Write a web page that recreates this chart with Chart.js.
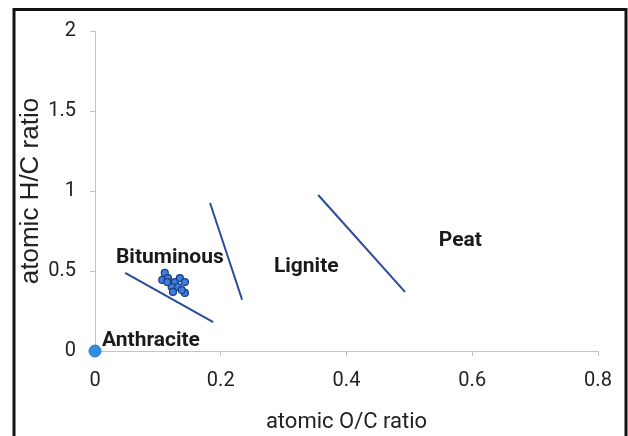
<!DOCTYPE html>
<html>
<head>
<meta charset="utf-8">
<script src="https://cdn.jsdelivr.net/npm/chart.js@4/dist/chart.umd.min.js"></script>
<style>
html,body{margin:0;padding:0;background:#fff;}
#wrap{position:absolute;left:0;top:0;width:628px;height:436px;}
</style>
</head>
<body>
<div id="wrap"><canvas id="c" width="628" height="436"></canvas></div>
<script>
// ---- data ----
const xTicks = [0, 0.2, 0.4, 0.6, 0.8];
const yTicks = [0, 0.5, 1, 1.5, 2];
const sampleX = [0.111, 0.107, 0.116, 0.127, 0.135, 0.143, 0.122, 0.132, 0.124, 0.143, 0.138, 0.115];
const sampleY = [0.488, 0.444, 0.456, 0.431, 0.456, 0.431, 0.400, 0.400, 0.369, 0.363, 0.381, 0.431];
const anthraciteX = [0];
const anthraciteY = [0];
const line1X = [0.048, 0.188], line1Y = [0.488, 0.180];
const line2X = [0.183, 0.234], line2Y = [0.925, 0.320];
const line3X = [0.355, 0.493], line3Y = [0.975, 0.370];
const labelText = ['Bituminous', 'Lignite', 'Peat', 'Anthracite'];
const labelX = [0.119, 0.336, 0.581, 0.089];
const labelY = [0.581, 0.525, 0.688, 0.063];

const pts = (xs, ys) => xs.map((x, i) => ({x: x, y: ys[i]}));
const NARROW = "'Roboto','Open Sans',sans-serif";
const WIDE = "'Liberation Sans','Arial',sans-serif";
const lineColor = '#2A4A9A';

const framePlugin = {
  id: 'frame',
  beforeDraw(chart) {
    const ctx = chart.ctx;
    ctx.save();
    ctx.fillStyle = '#fff';
    ctx.fillRect(0, 0, chart.width, chart.height);
    ctx.strokeStyle = '#111';
    ctx.lineWidth = 3;
    ctx.beginPath();
    ctx.moveTo(14, 440);
    ctx.lineTo(14, 9.5);
    ctx.lineTo(626, 9.5);
    ctx.lineTo(626, 440);
    ctx.stroke();
    ctx.restore();
  }
};

const labelPlugin = {
  id: 'labels',
  afterDatasetsDraw(chart) {
    const ctx = chart.ctx;
    const xs = chart.scales.x, ys = chart.scales.y;
    ctx.save();
    ctx.fillStyle = '#1a1a1a';
    ctx.font = "bold 21px " + NARROW;
    ctx.textAlign = 'center';
    ctx.textBaseline = 'middle';
    labelText.forEach((t, i) => {
      ctx.fillText(t, xs.getPixelForValue(labelX[i]), ys.getPixelForValue(labelY[i]));
    });
    ctx.restore();
  }
};

const lineDs = (xs, ys) => ({
  type: 'scatter', data: pts(xs, ys), showLine: true, pointRadius: 0,
  borderColor: lineColor, borderWidth: 2, fill: false
});

new Chart(document.getElementById('c'), {
  type: 'scatter',
  data: {
    datasets: [
      lineDs(line1X, line1Y),
      lineDs(line2X, line2Y),
      lineDs(line3X, line3Y),
      {data: pts(sampleX, sampleY), pointRadius: 3.5, pointBackgroundColor: '#3C7FD8',
       pointBorderColor: '#1C3A86', pointBorderWidth: 1.2},
      {data: pts(anthraciteX, anthraciteY), pointRadius: 6, pointBackgroundColor: '#2F8FE0',
       pointBorderColor: '#2A78C4', pointBorderWidth: 1, clip: false}
    ]
  },
  options: {
    responsive: false,
    animation: false,
    devicePixelRatio: 1,
    layout: {padding: {left: 0, right: 30, top: 31, bottom: 0}},
    plugins: {legend: {display: false}, tooltip: {enabled: false}},
    scales: {
      x: {
        type: 'linear', min: 0, max: 0.8,
        afterBuildTicks: s => { s.ticks = xTicks.map(v => ({value: v})); },
        afterFit: s => { s.height = 85; },
        grid: {drawOnChartArea: false, drawTicks: true, tickLength: 5, color: '#C4C4C4'},
        border: {color: '#C4C4C4', width: 1},
        ticks: {color: '#222', font: {family: NARROW, size: 20}, padding: 13, maxRotation: 0,
                callback: v => String(v)},
        title: {display: true, text: 'atomic O/C ratio', color: '#222',
                font: {family: NARROW, size: 22}, padding: {top: 11, bottom: 0}}
      },
      y: {
        type: 'linear', min: 0, max: 2,
        afterBuildTicks: s => { s.ticks = yTicks.map(v => ({value: v})); },
        afterFit: s => { s.width = 95; },
        grid: {drawOnChartArea: false, drawTicks: true, tickLength: 5, color: '#C4C4C4'},
        border: {color: '#C4C4C4', width: 1},
        ticks: {color: '#222', font: {family: NARROW, size: 20}, padding: 14,
                callback: v => String(v)},
        title: {display: true, text: 'atomic H/C ratio', color: '#222',
                font: {family: WIDE, size: 26}, padding: {top: 15, bottom: 0}}
      }
    }
  },
  plugins: [framePlugin, labelPlugin]
});
</script>
</body>
</html>
